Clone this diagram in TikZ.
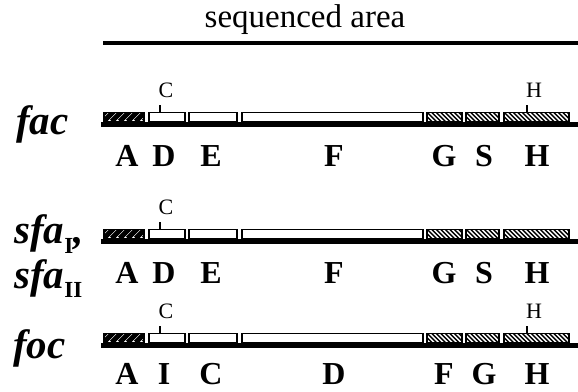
\documentclass[tikz,border=0pt]{standalone}
\usepackage{fontspec}
\setmainfont{Liberation Serif}
\begin{document}
\begin{tikzpicture}[x=1pt,y=-1pt,
  chrom/.style={line width=4.5pt},
  stemline/.style={line width=1.3pt},
  gene/.style={draw, line width=1.5pt, fill=white, inner sep=0pt,
    minimum height=9pt, anchor=south west},
  plain/.style={},
  darkhatch/.style={path picture={
    \foreach \k in {-16,-8,...,40}
      \draw[line width=5pt]
        ([xshift=\k pt]path picture bounding box.south west) -- ++(14pt,14pt);}},
  lighthatch/.style={path picture={
    \foreach \k in {-4,0.5,...,70}
      \draw[line width=1.3pt]
        ([xshift=\k pt]path picture bounding box.north west) -- ++(11pt,-11pt);}},
  genelabel/.style={font=\fontsize{32}{32}\selectfont\bfseries, anchor=base, inner sep=0pt},
  site/.style={font=\fontsize{22}{22}\selectfont, anchor=base, inner sep=0pt},
  rowname/.style={font=\fontsize{41}{41}\selectfont\bfseries\itshape, anchor=base west, inner sep=0pt},
  header/.style={font=\fontsize{33}{33}\selectfont, anchor=base, inner sep=0pt}]

\useasboundingbox (0,0) rectangle (578,391);

% sequenced region bar
\node[header] (seq) at (305,27) {sequenced area};
\coordinate (seqL) at (103,43);
\coordinate (seqR) at (578,43);
\draw[line width=3.5pt] (seqL) -- (seqR);

% one gene cluster: #1 id, #2 y of the chromosome line
\newcommand{\clusterrow}[2]{%
  \coordinate (#1-l) at (101,#2);
  \coordinate (#1-r) at (578,#2);
  \draw[chrom] (#1-l) -- (#1-r);
  \foreach \n/\xa/\xb/\sty in {1/103/143/darkhatch, 2/148/184/plain,
      3/188/236/plain, 4/241/422/plain, 5/426/461/lighthatch,
      6/465/498/lighthatch, 7/503/568/lighthatch}{
    \pgfmathsetmacro{\w}{\xb-\xa}
    \node[gene, \sty, minimum width=\w pt] (#1-b\n) at (\xa,#2-2.4) {};
  }
}

% labels under the boxes: #1 id, #2 baseline y, #3..#9 names
\newcommand{\clusterlabels}[9]{%
  \node[genelabel] (#1-n1) at (127,#2) {#3};
  \node[genelabel] (#1-n2) at (164,#2) {#4};
  \node[genelabel] (#1-n3) at (211,#2) {#5};
  \node[genelabel] (#1-n4) at (334,#2) {#6};
  \node[genelabel] (#1-n5) at (444,#2) {#7};
  \node[genelabel] (#1-n6) at (484,#2) {#8};
  \node[genelabel] (#1-n7) at (537,#2) {#9};
}

% fac
\clusterrow{fac}{124.5}
\clusterlabels{fac}{166}{A}{D}{E}{F}{G}{S}{H}
\node[rowname] (facname) at (16,134) {fac};
\coordinate (fac-cs) at (160,105);
\draw[stemline] (fac-b2.north -| fac-cs) -- (fac-cs);
\node[site] (fac-c) at (166,97) {C};
\coordinate (fac-hs) at (527,105);
\draw[stemline] (fac-b7.north -| fac-hs) -- (fac-hs);
\node[site] (fac-h) at (534,97) {H};

% sfa
\clusterrow{sfa}{241.5}
\clusterlabels{sfa}{283}{A}{D}{E}{F}{G}{S}{H}
\node[rowname] (sfa1) at (14,243) {sfa\raisebox{-10pt}{\usefont{TU}{\rmdefault}{bx}{n}\fontsize{23}{23}\selectfont I},};
\node[rowname] (sfa2) at (14,288) {sfa\raisebox{-9pt}{\usefont{TU}{\rmdefault}{bx}{n}\fontsize{23}{23}\selectfont II}};
\coordinate (sfa-cs) at (160,222);
\draw[stemline] (sfa-b2.north -| sfa-cs) -- (sfa-cs);
\node[site] (sfa-c) at (166,214) {C};

% foc
\clusterrow{foc}{345.5}
\clusterlabels{foc}{384}{A}{I}{C}{D}{F}{G}{H}
\node[rowname] (focname) at (13,358) {foc};
\coordinate (foc-cs) at (160,326);
\draw[stemline] (foc-b2.north -| foc-cs) -- (foc-cs);
\node[site] (foc-c) at (166,318) {C};
\coordinate (foc-hs) at (527,326);
\draw[stemline] (foc-b7.north -| foc-hs) -- (foc-hs);
\node[site] (foc-h) at (534,318) {H};

\end{tikzpicture}
\end{document}
